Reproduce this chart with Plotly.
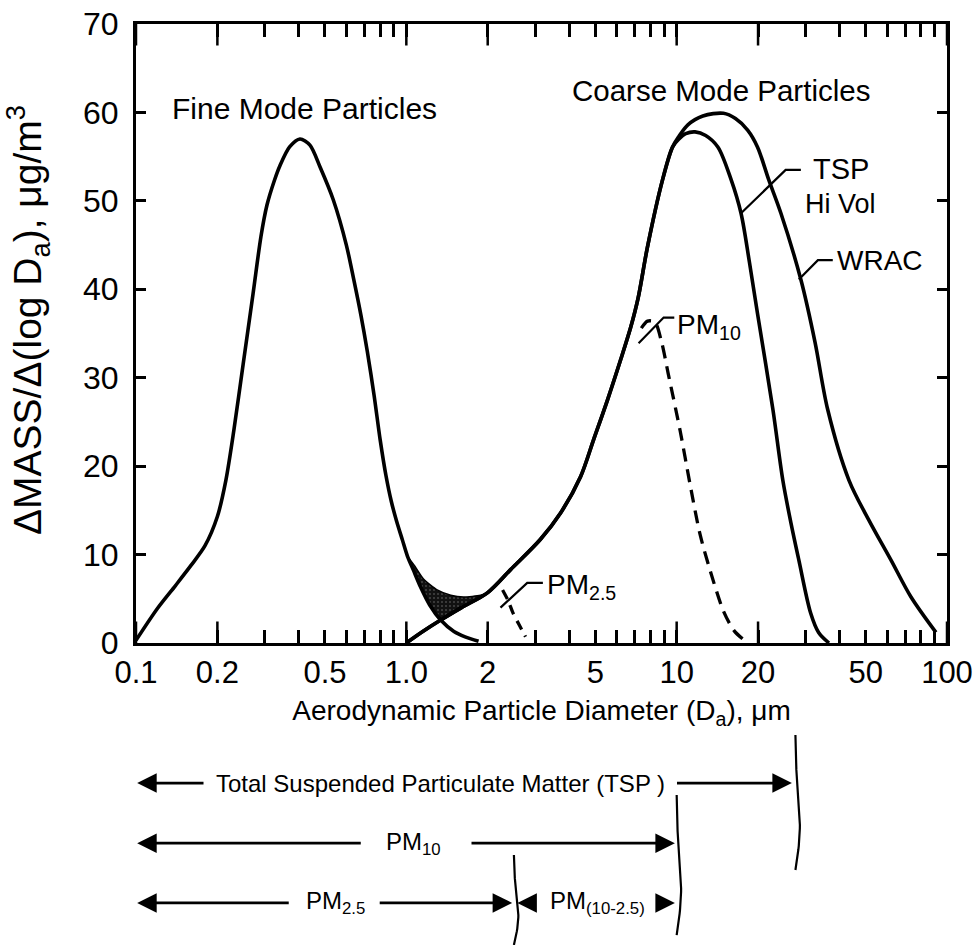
import numpy as np
import plotly.graph_objects as go

# ---------------- data ----------------
fine_x = [0.1, 0.12, 0.14, 0.16, 0.18, 0.2, 0.215, 0.23, 0.249, 0.271, 0.29, 0.305, 0.325, 0.341, 0.37, 0.404,
          0.44, 0.48, 0.537, 0.6, 0.64, 0.68, 0.717, 0.76, 0.8, 0.84, 0.88, 0.92, 0.966, 1.01,
          1.06, 1.13, 1.22, 1.34, 1.5, 1.65, 1.85]
fine_y = [0.3, 3.9, 6.5, 8.8, 11.0, 14.3, 18.4, 24.0, 31.5, 39.5, 46.0, 49.5, 52.3, 54.0, 56.1, 57.0,
          56.3, 53.8, 50.1, 45.0, 41.0, 37.0, 33.0, 28.0, 23.0, 19.0, 16.0, 13.8, 11.7, 9.8,
          8.3, 6.3, 4.3, 2.6, 1.3, 0.7, 0.2]

wrac_x = [1.0, 1.15, 1.34, 1.6, 2.0, 2.43, 3.13, 3.72, 4.41, 4.93, 5.55, 6.2, 6.76, 7.2, 7.8, 8.87, 9.66,
          10.2, 11.0, 12.5, 14.9, 16.5, 18.3, 19.9, 21.9, 24.3, 28.8, 32.5, 36.2, 43.4, 51.4, 62.0, 73.6, 91.0]
wrac_y = [0.0, 1.3, 2.6, 4.0, 5.7, 8.3, 11.7, 14.7, 18.8, 23.0, 27.5, 32.0, 35.7, 39.0, 44.8, 52.4, 56.1,
          57.3, 58.6, 59.6, 59.9, 59.3, 58.0, 56.1, 52.4, 48.6, 41.1, 34.0, 26.4, 18.4, 13.9, 9.4, 5.2, 1.2]

tsp_x = [1.0, 1.15, 1.34, 1.6, 2.0, 2.43, 3.13, 3.72, 4.41, 4.93, 5.55, 6.2, 6.76, 7.2, 7.8, 8.87, 9.66,
         10.2, 10.8, 11.7, 12.8, 14.2, 15.9, 17.3, 18.6, 19.9, 22.7, 24.7, 26.5, 28.3, 31.3, 33.5, 36.6]
tsp_y = [0.0, 1.3, 2.6, 4.0, 5.7, 8.3, 11.7, 14.7, 18.8, 23.0, 27.5, 32.0, 35.7, 39.0, 44.8, 52.4, 56.1,
         57.0, 57.6, 57.8, 57.4, 56.1, 52.4, 48.6, 43.0, 37.3, 26.4, 18.4, 13.5, 9.4, 3.4, 1.2, 0.0]

pm10_x = [7.4, 7.8, 8.3, 8.8, 9.3, 10.3, 11.2, 12.2, 13.3, 14.9, 16.3, 17.8]
pm10_y = [35.6, 36.4, 36.3, 34.0, 30.5, 24.0, 18.0, 12.3, 8.2, 3.6, 1.4, 0.3]

pm25_x = [2.27, 2.38, 2.48, 2.62, 2.76]
pm25_y = [6.0, 4.8, 3.4, 2.0, 0.7]

# overlap (hatched) region: upper envelope and lower boundary
overlap_top_x = [1.01, 1.08, 1.16, 1.30, 1.46, 1.63, 1.88, 2.0]
overlap_top_y = [9.8, 8.6, 7.2, 6.0, 5.4, 5.2, 5.4, 5.7]
overlap_low_x = [1.01, 1.06, 1.13, 1.22, 1.34, 1.6, 2.0]
overlap_low_y = [9.8, 8.3, 6.3, 4.3, 2.6, 4.0, 5.7]

# axis ticks
label_ticks = [0.1, 0.2, 0.5, 1, 2, 5, 10, 20, 50, 100]
label_text = ["0.1", "0.2", "0.5", "1.0", "2", "5", "10", "20", "50", "100"]
long_ticks = [0.1, 0.2, 1, 2, 10, 20, 100]
minor_ticks = [0.3, 0.4, 0.6, 0.7, 0.8, 0.9, 3, 4, 6, 7, 8, 9, 30, 40, 60, 70, 80, 90]
y_ticks = [0, 10, 20, 30, 40, 50, 60, 70]

# size-fraction cut points (um) for the lower diagram
cut_tsp, cut_pm10, cut_pm25 = 27.5, 10.0, 2.5

FONT = "Liberation Sans, Arial, Helvetica, sans-serif"
LW = 3.6
X_RANGE = [-1, 2]
Y_RANGE = [0, 70]

fig = go.Figure()

# hatched overlap region
fig.add_trace(go.Scatter(
    x=overlap_top_x + overlap_low_x[::-1], y=overlap_top_y + overlap_low_y[::-1],
    mode="lines", fill="toself", fillcolor="#111111",
    fillpattern=dict(shape=".", fgcolor="#7a7a7a", bgcolor="#111111", size=4, solidity=0.2),
    line=dict(color="black", width=1.5, shape="spline", smoothing=0.6), hoverinfo="skip"))

fig.add_trace(go.Scatter(x=fine_x, y=fine_y, mode="lines",
                         line=dict(color="black", width=LW, shape="spline", smoothing=0.8)))
fig.add_trace(go.Scatter(x=wrac_x, y=wrac_y, mode="lines",
                         line=dict(color="black", width=LW, shape="spline", smoothing=0.9)))
fig.add_trace(go.Scatter(x=tsp_x, y=tsp_y, mode="lines",
                         line=dict(color="black", width=LW, shape="spline", smoothing=0.9)))
fig.add_trace(go.Scatter(x=pm10_x, y=pm10_y, mode="lines",
                         line=dict(color="black", width=3.3, dash="13px,8px", shape="spline", smoothing=0.8)))
fig.add_trace(go.Scatter(x=pm25_x, y=pm25_y, mode="lines",
                         line=dict(color="black", width=3.3, dash="10px,7px", shape="spline", smoothing=0.8)))

# label leader lines (x in um, y in data units)
leaders = {
    "TSP": ([17.3, 25.3, 28.8], [48.6, 53.5, 53.5]),
    "WRAC": ([28.3, 33.3, 37.8], [41.1, 43.3, 43.3]),
    "PM10": ([7.23, 8.95, 9.8], [33.9, 36.8, 36.8]),
    "PM25": ([2.23, 2.8, 3.2], [4.0, 6.8, 6.8]),
}
for lx, ly in leaders.values():
    fig.add_trace(go.Scatter(x=lx, y=ly, mode="lines", line=dict(color="black", width=2.2)))

# ------------- lower diagram: size ranges -------------
rows = {"tsp": 0.704, "pm10": 0.443, "pm25": 0.183}
brace_spans = {cut_tsp: (0.913, 0.326), cut_pm10: (0.652, 0.043), cut_pm25: (0.391, 0.0)}
t = np.linspace(0, 1, 40)
for c, (top, bot) in brace_spans.items():
    bx = c * 10 ** (0.013 * np.sin(np.pi * t) - 0.006 * np.sin(2 * np.pi * t))
    by = top + (bot - top) * t
    fig.add_trace(go.Scatter(x=bx, y=by, xaxis="x2", yaxis="y2", mode="lines",
                             line=dict(color="black", width=2.2), hoverinfo="skip"))

annotations = []

# long inward tick marks at 1x and 2x of each decade (top and bottom)
LONG_Y = 2.6   # tick length in y data units (~23 px)

def tick(x0, y0, x1, y1):
    annotations.append(dict(x=x0, y=y0, ax=x1, ay=y1, xref="x", yref="y", axref="x", ayref="y",
                            text="", showarrow=True, arrowhead=0, arrowwidth=2.5, arrowcolor="black",
                            standoff=0, startstandoff=0))

for v in long_ticks:
    lv = np.log10(v)
    tick(lv, Y_RANGE[0], lv, Y_RANGE[0] + LONG_Y)
    tick(lv, Y_RANGE[1], lv, Y_RANGE[1] - LONG_Y)


def arrow(tip, tail, yv):
    annotations.append(dict(x=np.log10(tip), y=yv, ax=np.log10(tail), ay=yv,
                            xref="x2", yref="y2", axref="x2", ayref="y2", text="",
                            showarrow=True, arrowhead=2, arrowsize=1.5, arrowwidth=2.6,
                            arrowcolor="black", standoff=0, startstandoff=0))

def btext(txt, xv, yv):
    annotations.append(dict(x=np.log10(xv), y=yv, xref="x2", yref="y2", text=txt, showarrow=False,
                            font=dict(family=FONT, size=24, color="black"),
                            xanchor="center", yanchor="middle"))

# row 1 TSP
arrow(0.101, 0.18, rows["tsp"])
arrow(cut_tsp * 0.97, 9.9, rows["tsp"])
btext("Total Suspended Particulate Matter (TSP )", 1.34, rows["tsp"])
# row 2 PM10
arrow(0.101, 0.687, rows["pm10"])
arrow(cut_pm10 * 0.985, 1.72, rows["pm10"])
btext("PM<sub>10</sub>", 1.06, rows["pm10"])
# row 3 PM2.5 and PM(10-2.5)
arrow(0.101, 0.372, rows["pm25"])
arrow(cut_pm25 * 0.985, 0.787, rows["pm25"])
btext("PM<sub>2.5</sub>", 0.546, rows["pm25"])
arrow(cut_pm25 * 1.03, 3.0, rows["pm25"])
arrow(cut_pm10 * 0.985, 8.7, rows["pm25"])
btext("PM<sub>(10-2.5)</sub>", 5.1, rows["pm25"])

# main plot labels
def ptext(txt, xv, yv, size, anchor="center"):
    annotations.append(dict(x=np.log10(xv), y=yv, xref="x", yref="y", text=txt, showarrow=False,
                            font=dict(family=FONT, size=size, color="black"),
                            xanchor=anchor, yanchor="middle"))

ptext("Fine Mode Particles", 0.42, 60.5, 30)
ptext("Coarse Mode Particles", 14.6, 62.5, 29.5)
ptext("TSP", 40.4, 53.6, 29)
ptext("Hi Vol", 40.4, 49.7, 27)
ptext("WRAC", 38.6, 43.3, 28, "left")
ptext("PM<sub>10</sub>", 9.9, 35.8, 28, "left")
ptext("PM<sub>2.5</sub>", 3.27, 6.4, 28, "left")

# y-axis title placed beside the axis
annotations.append(dict(x=-0.1332, y=0.6786, xref="paper", yref="paper", textangle=-90,
                        text="ΔMASS/Δ(log D<sub>a</sub>), μg/m<sup>3</sup>", showarrow=False,
                        font=dict(family=FONT, size=39, color="black"),
                        xanchor="center", yanchor="middle"))

fig.update_layout(
    width=973, height=945,
    margin=dict(l=136, r=26, t=24, b=0, autoexpand=False),
    paper_bgcolor="white", plot_bgcolor="white",
    showlegend=False,
    font=dict(family=FONT, color="black"),
    annotations=annotations,
    xaxis=dict(type="log", range=X_RANGE, domain=[0, 1], anchor="y", automargin=False,
               tickmode="array", tickvals=label_ticks, ticktext=label_text,
               ticks="inside", ticklen=13, tickwidth=2.5, tickcolor="black",
               minor=dict(tickvals=minor_ticks, ticks="inside", ticklen=13, tickwidth=2.5,
                          tickcolor="black", showgrid=False),
               tickfont=dict(size=31), ticklabeloverflow="allow",
               showline=True, linewidth=3, linecolor="black", mirror="ticks",
               showgrid=False, zeroline=False,
               title=dict(text="Aerodynamic Particle Diameter (D<sub>a</sub>), μm",
                          font=dict(size=28), standoff=12)),
    yaxis=dict(range=Y_RANGE, domain=[0.3279, 1], anchor="x", automargin=False,
               tickmode="array", tickvals=y_ticks,
               ticks="inside", ticklen=10, tickwidth=2.5, tickcolor="black",
               tickfont=dict(size=32), ticklabelstandoff=8,
               showline=True, linewidth=3, linecolor="black", mirror="ticks",
               showgrid=False, zeroline=False),
    xaxis2=dict(type="log", range=X_RANGE, anchor="y2", domain=[0, 1], visible=False, automargin=False),
    yaxis2=dict(range=[0, 1], domain=[0, 0.2497], anchor="x2", visible=False, automargin=False),
)

fig.write_html(
    "out.html",
    config={"displayModeBar": False},
    post_script=("document.documentElement.style.cssText='margin:0;padding:0;height:945px;overflow:hidden';"
                 "document.body.style.cssText='margin:0;padding:0;height:945px;overflow:hidden';"),
)
